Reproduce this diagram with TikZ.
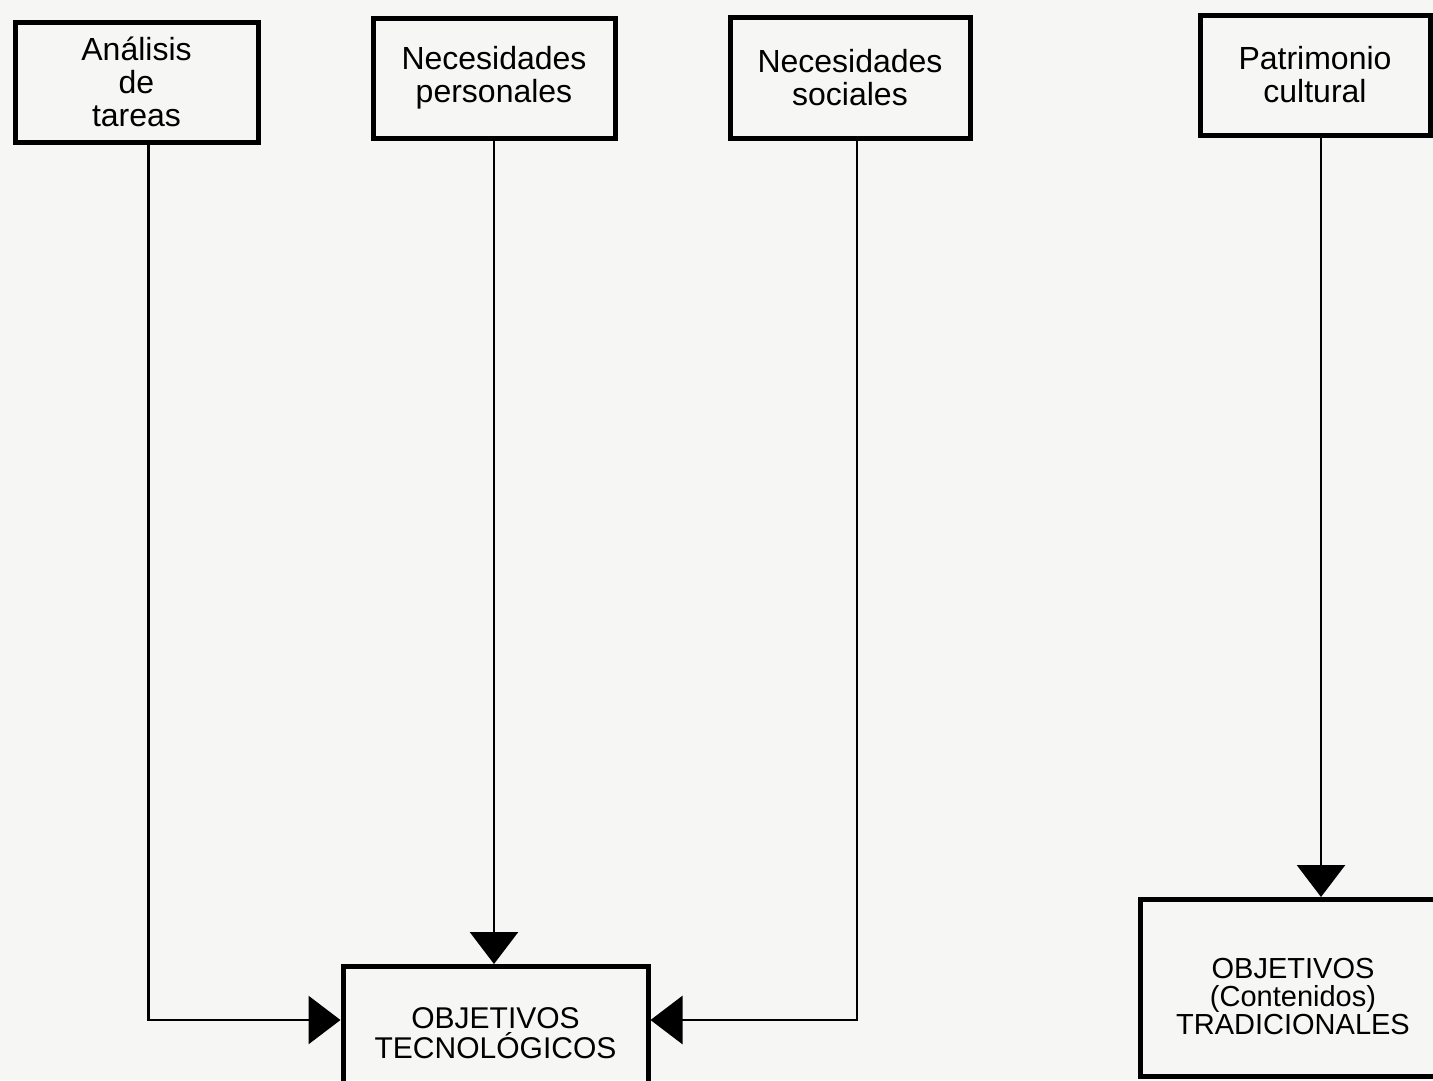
\documentclass[tikz,border=0pt]{standalone}
\usepackage{fontspec}
\setmainfont{Liberation Sans}
\usetikzlibrary{arrows.meta}
\definecolor{paper}{HTML}{F6F6F4}
\begin{document}
\begin{tikzpicture}[x=1pt,y=-1pt,
  box/.style={draw, line width=5pt, align=center, inner sep=0pt,
              font=\fontsize{32}{33}\selectfont},
  goal/.style={box, font=\fontsize{30}{30}\selectfont},
  conn/.style={line width=2.8pt, -{Triangle[length=32pt,width=48pt]}}]
% page
\fill[paper] (0,0) rectangle (1433,1080);
\clip (0,0) rectangle (1433,1080);

% sources
\node[box, minimum width=243pt, minimum height=120pt] (b1) at (136.5,82)
  {Análisis\\de\\tareas};
\node[box, minimum width=242pt, minimum height=120pt] (b2) at (494,78)
  {Necesidades\\personales};
\node[box, minimum width=240pt, minimum height=121pt] (b3) at (850,77.5)
  {Necesidades\\sociales};
\node[box, minimum width=230pt, minimum height=120pt] (b4) at (1315,75)
  {Patrimonio\\cultural};

% objectives
\node[goal, minimum width=305pt, minimum height=133pt] (tec) at (495.5,1033)
  {OBJETIVOS\\TECNOLÓGICOS};
\node[goal, font=\fontsize{29}{28}\selectfont,
      minimum width=306pt, minimum height=177pt] (trad) at (1293,988)
  {\rule{0pt}{37pt}OBJETIVOS\\(Contenidos)\\TRADICIONALES};

% connectors
\draw[conn] ([xshift=12pt]b1.south) |- ([yshift=13pt]tec.west);
\draw[conn] (b2.south) -- (b2.south |- tec.north);
\draw[conn] ([xshift=7pt]b3.south) |- ([yshift=13pt]tec.east);
\draw[conn] ([xshift=6pt]b4.south) -- ([xshift=6pt]b4.south |- trad.north);
\end{tikzpicture}
\end{document}
